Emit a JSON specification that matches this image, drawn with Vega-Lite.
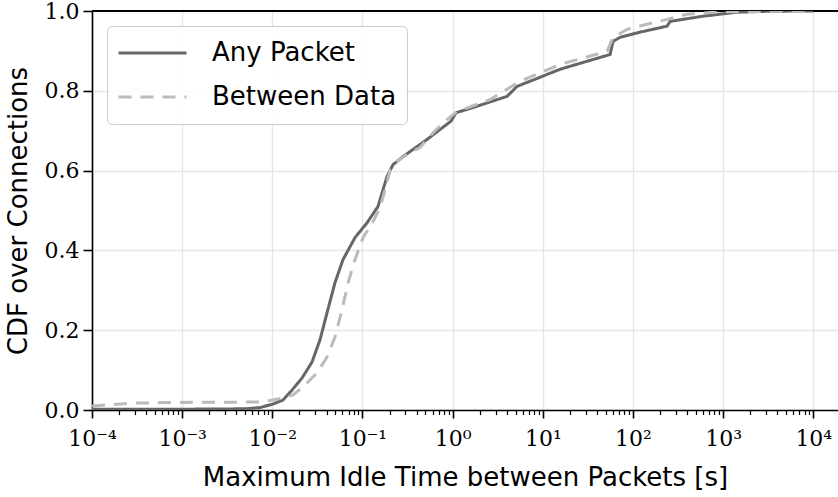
{
  "$schema": "https://vega.github.io/schema/vega-lite/v6.json",
  "width": 746,
  "height": 399,
  "autosize": {"type": "none"},
  "padding": {"left": 92, "top": 11, "right": 0, "bottom": 87},
  "config": {
    "view": {"stroke": null},
    "axis": {
      "labelFont": "DejaVu Serif",
      "labelFontSize": 22,
      "labelColor": "#000000",
      "titleFont": "DejaVu Sans",
      "titleFontSize": 26,
      "titleFontWeight": "normal",
      "titleColor": "#000000",
      "domainColor": "#000000",
      "domainWidth": 1.6,
      "tickColor": "#000000",
      "gridColor": "#e6e6e6",
      "gridWidth": 1.4
    },
    "legend": {
      "labelFont": "DejaVu Sans",
      "labelFontSize": 26,
      "labelColor": "#000000",
      "labelLimit": 400,
      "symbolType": "stroke",
      "symbolSize": 4624,
      "symbolStrokeWidth": 3,
      "padding": 10,
      "strokeColor": "#cccccc",
      "cornerRadius": 5,
      "fillColor": "rgba(255,255,255,0.85)",
      "labelOffset": 24,
      "clipHeight": 34,
      "rowPadding": 10
    }
  },
  "data": {
    "values": [
      {"t": 0.0001, "cdf": 0.002, "s": "Any Packet"},
      {"t": 0.001, "cdf": 0.002, "s": "Any Packet"},
      {"t": 0.005, "cdf": 0.003, "s": "Any Packet"},
      {"t": 0.00731, "cdf": 0.006, "s": "Any Packet"},
      {"t": 0.01019, "cdf": 0.015, "s": "Any Packet"},
      {"t": 0.01315, "cdf": 0.025, "s": "Any Packet"},
      {"t": 0.01656, "cdf": 0.05, "s": "Any Packet"},
      {"t": 0.02133, "cdf": 0.08, "s": "Any Packet"},
      {"t": 0.02754, "cdf": 0.12, "s": "Any Packet"},
      {"t": 0.03381, "cdf": 0.176, "s": "Any Packet"},
      {"t": 0.04046, "cdf": 0.244, "s": "Any Packet"},
      {"t": 0.04955, "cdf": 0.319, "s": "Any Packet"},
      {"t": 0.06081, "cdf": 0.377, "s": "Any Packet"},
      {"t": 0.0826, "cdf": 0.432, "s": "Any Packet"},
      {"t": 0.1122, "cdf": 0.469, "s": "Any Packet"},
      {"t": 0.1486, "cdf": 0.51, "s": "Any Packet"},
      {"t": 0.169, "cdf": 0.552, "s": "Any Packet"},
      {"t": 0.1871, "cdf": 0.585, "s": "Any Packet"},
      {"t": 0.2183, "cdf": 0.615, "s": "Any Packet"},
      {"t": 0.2818, "cdf": 0.635, "s": "Any Packet"},
      {"t": 0.3639, "cdf": 0.653, "s": "Any Packet"},
      {"t": 0.52, "cdf": 0.678, "s": "Any Packet"},
      {"t": 0.7244, "cdf": 0.703, "s": "Any Packet"},
      {"t": 0.9594, "cdf": 0.724, "s": "Any Packet"},
      {"t": 1.091, "cdf": 0.745, "s": "Any Packet"},
      {"t": 1.683, "cdf": 0.758, "s": "Any Packet"},
      {"t": 4.009, "cdf": 0.786, "s": "Any Packet"},
      {"t": 5.176, "cdf": 0.811, "s": "Any Packet"},
      {"t": 9.333, "cdf": 0.834, "s": "Any Packet"},
      {"t": 15.52, "cdf": 0.854, "s": "Any Packet"},
      {"t": 30.97, "cdf": 0.874, "s": "Any Packet"},
      {"t": 55.72, "cdf": 0.891, "s": "Any Packet"},
      {"t": 60.12, "cdf": 0.924, "s": "Any Packet"},
      {"t": 71.94, "cdf": 0.934, "s": "Any Packet"},
      {"t": 120.0, "cdf": 0.947, "s": "Any Packet"},
      {"t": 238.8, "cdf": 0.962, "s": "Any Packet"},
      {"t": 258.2, "cdf": 0.974, "s": "Any Packet"},
      {"t": 599.8, "cdf": 0.987, "s": "Any Packet"},
      {"t": 1429, "cdf": 0.997, "s": "Any Packet"},
      {"t": 3319, "cdf": 0.9995, "s": "Any Packet"},
      {"t": 10000, "cdf": 1.0, "s": "Any Packet"},
      {"t": 0.0001, "cdf": 0.01, "s": "Between Data"},
      {"t": 0.000264, "cdf": 0.017, "s": "Between Data"},
      {"t": 0.000946, "cdf": 0.019, "s": "Between Data"},
      {"t": 0.00769, "cdf": 0.02, "s": "Between Data"},
      {"t": 0.00942, "cdf": 0.024, "s": "Between Data"},
      {"t": 0.01315, "cdf": 0.03, "s": "Between Data"},
      {"t": 0.01698, "cdf": 0.038, "s": "Between Data"},
      {"t": 0.02193, "cdf": 0.058, "s": "Between Data"},
      {"t": 0.03133, "cdf": 0.093, "s": "Between Data"},
      {"t": 0.04046, "cdf": 0.133, "s": "Between Data"},
      {"t": 0.04955, "cdf": 0.183, "s": "Between Data"},
      {"t": 0.05929, "cdf": 0.251, "s": "Between Data"},
      {"t": 0.06918, "cdf": 0.319, "s": "Between Data"},
      {"t": 0.0826, "cdf": 0.377, "s": "Between Data"},
      {"t": 0.1014, "cdf": 0.432, "s": "Between Data"},
      {"t": 0.1309, "cdf": 0.472, "s": "Between Data"},
      {"t": 0.1567, "cdf": 0.507, "s": "Between Data"},
      {"t": 0.1871, "cdf": 0.57, "s": "Between Data"},
      {"t": 0.2023, "cdf": 0.603, "s": "Between Data"},
      {"t": 0.2415, "cdf": 0.623, "s": "Between Data"},
      {"t": 0.3119, "cdf": 0.64, "s": "Between Data"},
      {"t": 0.4345, "cdf": 0.658, "s": "Between Data"},
      {"t": 0.6067, "cdf": 0.695, "s": "Between Data"},
      {"t": 0.867, "cdf": 0.728, "s": "Between Data"},
      {"t": 1.119, "cdf": 0.748, "s": "Between Data"},
      {"t": 2.6, "cdf": 0.778, "s": "Between Data"},
      {"t": 5.598, "cdf": 0.824, "s": "Between Data"},
      {"t": 15.52, "cdf": 0.866, "s": "Between Data"},
      {"t": 51.64, "cdf": 0.899, "s": "Between Data"},
      {"t": 60.12, "cdf": 0.934, "s": "Between Data"},
      {"t": 86.1, "cdf": 0.954, "s": "Between Data"},
      {"t": 143.6, "cdf": 0.967, "s": "Between Data"},
      {"t": 238.8, "cdf": 0.979, "s": "Between Data"},
      {"t": 398.1, "cdf": 0.992, "s": "Between Data"},
      {"t": 924.7, "cdf": 0.998, "s": "Between Data"},
      {"t": 10000, "cdf": 1.0, "s": "Between Data"}
    ]
  },
  "layer": [
    {
      "mark": {"type": "rule", "color": "#000000", "strokeWidth": 1.6},
      "encoding": {"y": {"datum": 1}}
    },
    {
      "mark": {"type": "line", "strokeWidth": 3, "clip": true, "strokeCap": "butt"},
      "encoding": {
        "x": {
          "field": "t",
          "type": "quantitative",
          "scale": {"type": "log", "domain": [0.0001, 18800], "nice": false},
          "axis": {
            "title": "Maximum Idle Time between Packets [s]",
            "grid": true,
            "titlePadding": 15,
            "labelPadding": 10,
            "labelOverlap": false,
            "labelFlush": false,
            "values": [0.0001,0.0002,0.0003,0.0004,0.0005,0.0006,0.0007,0.0008,0.0009,
                       0.001,0.002,0.003,0.004,0.005,0.006,0.007,0.008,0.009,
                       0.01,0.02,0.03,0.04,0.05,0.06,0.07,0.08,0.09,
                       0.1,0.2,0.3,0.4,0.5,0.6,0.7,0.8,0.9,
                       1,2,3,4,5,6,7,8,9,
                       10,20,30,40,50,60,70,80,90,
                       100,200,300,400,500,600,700,800,900,
                       1000,2000,3000,4000,5000,6000,7000,8000,9000,10000],
            "labelExpr": "abs(log(datum.value)/LN10 - round(log(datum.value)/LN10)) < 0.001 ? ('10' + (round(log(datum.value)/LN10) == -4 ? '⁻⁴' : round(log(datum.value)/LN10) == -3 ? '⁻³' : round(log(datum.value)/LN10) == -2 ? '⁻²' : round(log(datum.value)/LN10) == -1 ? '⁻¹' : round(log(datum.value)/LN10) == 0 ? '⁰' : round(log(datum.value)/LN10) == 1 ? '¹' : round(log(datum.value)/LN10) == 2 ? '²' : round(log(datum.value)/LN10) == 3 ? '³' : '⁴')) : ''",
            "tickSize": {"condition": {"test": "abs(log(datum.value)/LN10 - round(log(datum.value)/LN10)) < 0.001", "value": 8}, "value": 4.5},
            "tickWidth": {"condition": {"test": "abs(log(datum.value)/LN10 - round(log(datum.value)/LN10)) < 0.001", "value": 1.6}, "value": 1.2},
            "gridOpacity": {"condition": {"test": "abs(log(datum.value)/LN10 - round(log(datum.value)/LN10)) < 0.001", "value": 1}, "value": 0}
          }
        },
        "y": {
          "field": "cdf",
          "type": "quantitative",
          "scale": {"domain": [0, 1], "nice": false},
          "axis": {
            "title": "CDF over Connections",
            "grid": true,
            "gridOpacity": 1,
            "values": [0, 0.2, 0.4, 0.6, 0.8, 1.0],
            "format": ".1f",
            "tickSize": 9,
            "tickWidth": 1.6,
            "labelPadding": 4,
            "titlePadding": 13
          }
        },
        "color": {
          "field": "s",
          "type": "nominal",
          "scale": {"domain": ["Any Packet", "Between Data"], "range": ["#666666", "#bbbbbb"]},
          "legend": {"title": null, "orient": "top-left", "offset": 15}
        },
        "strokeDash": {
          "field": "s",
          "type": "nominal",
          "scale": {"domain": ["Any Packet", "Between Data"], "range": [[1, 0], [13, 9]]},
          "legend": {"title": null, "orient": "top-left", "offset": 15}
        }
      }
    }
  ]
}
